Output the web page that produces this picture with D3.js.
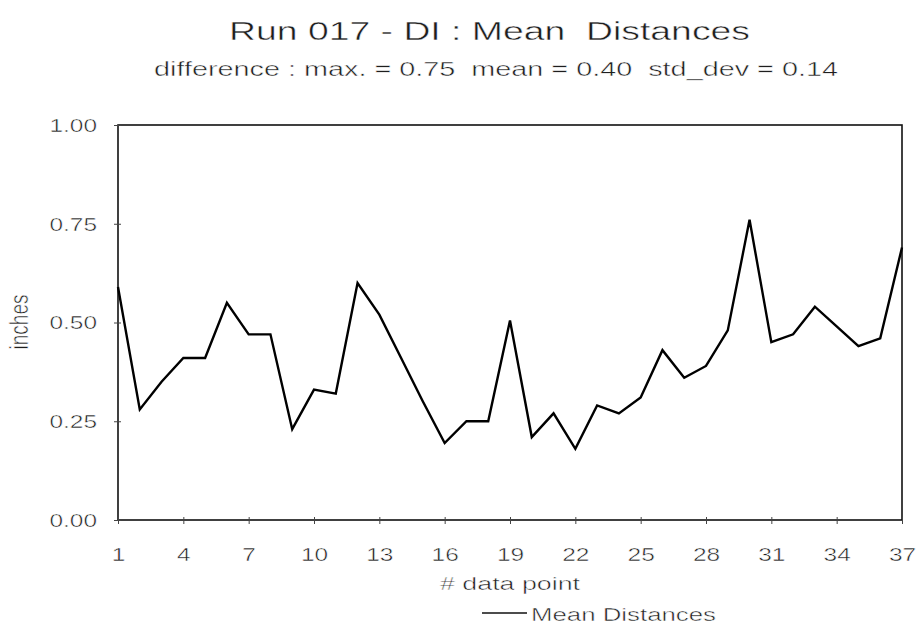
<!DOCTYPE html>
<html>
<head>
<meta charset="utf-8">
<script src="https://cdnjs.cloudflare.com/ajax/libs/d3/7.8.5/d3.min.js"></script>
<style>
  html, body { margin: 0; padding: 0; background: #fff; }
  svg { display: block; }
  text { font-family: Arial, "Liberation Sans", sans-serif; fill: #1e1e1e; white-space: pre;
         stroke: #fff; stroke-width: 0.45px; paint-order: fill stroke; }
</style>
</head>
<body>
<script>
// ---- data ----
const pointIndex = d3.range(1, 38);
const meanDistances = [0.59, 0.28, 0.35, 0.41, 0.41, 0.55, 0.47, 0.47, 0.23, 0.33,
  0.32, 0.60, 0.52, 0.41, 0.30, 0.195, 0.25, 0.25, 0.505, 0.21,
  0.27, 0.18, 0.29, 0.27, 0.31, 0.43, 0.36, 0.39, 0.48, 0.76,
  0.45, 0.47, 0.54, 0.49, 0.44, 0.46, 0.69];
const xTickValues = [1, 4, 7, 10, 13, 16, 19, 22, 25, 28, 31, 34, 37];
const yTickValues = [0, 0.25, 0.5, 0.75, 1.0];
const titleText = "Run 017 - DI : Mean  Distances";
const subtitleText = "difference : max. = 0.75  mean = 0.40  std_dev = 0.14";
const xLabel = "# data point";
const yLabel = "inches";
const seriesName = "Mean Distances";

// ---- layout ----
const W = 921, H = 632;
const plot = { left: 118, right: 902, top: 125, bottom: 520 };
const SX = 1.36; // horizontal stretch of the scanned text

const svg = d3.select("body").append("svg").attr("width", W).attr("height", H);
svg.append("rect").attr("width", W).attr("height", H).attr("fill", "#fff");

const x = d3.scaleLinear().domain([1, 37]).range([plot.left, plot.right]);
const y = d3.scaleLinear().domain([0, 1]).range([plot.bottom, plot.top]);

// frame
svg.append("rect")
  .attr("x", plot.left).attr("y", plot.top)
  .attr("width", plot.right - plot.left).attr("height", plot.bottom - plot.top)
  .attr("fill", "none").attr("stroke", "#111").attr("stroke-width", 1.6);

// x axis
const xAxis = svg.append("g").attr("transform", `translate(0,${plot.bottom})`)
  .call(d3.axisBottom(x).tickValues(xTickValues).tickSize(4).tickFormat(d3.format("d")));
xAxis.select(".domain").remove();
xAxis.selectAll(".tick line").attr("y1", -3).attr("y2", 4).attr("stroke", "#444").attr("stroke-width", 1);
xAxis.selectAll(".tick text")
  .attr("y", 41).attr("dy", 0)
  .attr("transform", `scale(${SX},1)`)
  .style("font-size", "18px").attr("fill", "#1e1e1e");

// y axis
const yAxis = svg.append("g").attr("transform", `translate(${plot.left},0)`)
  .call(d3.axisLeft(y).tickValues(yTickValues).tickSize(4).tickFormat(d3.format(".2f")));
yAxis.select(".domain").remove();
yAxis.selectAll(".tick line").attr("x1", -4).attr("x2", 3).attr("stroke", "#444").attr("stroke-width", 1);
yAxis.selectAll(".tick text")
  .attr("x", -21 / SX).attr("dy", "0.36em")
  .attr("transform", `scale(${SX},1)`)
  .style("font-size", "18px").attr("fill", "#1e1e1e");

// line
const line = d3.line().x((d, i) => x(pointIndex[i])).y(d => y(d));
svg.append("path").datum(meanDistances)
  .attr("d", line).attr("fill", "none")
  .attr("stroke", "#000").attr("stroke-width", 2.4)
  .attr("stroke-linejoin", "miter");

// titles
svg.append("text").attr("x", 229).attr("y", 40)
  .attr("textLength", 521).attr("lengthAdjust", "spacingAndGlyphs")
  .style("font-size", "26px").text(titleText);
svg.append("text").attr("x", 154).attr("y", 76)
  .attr("textLength", 684).attr("lengthAdjust", "spacingAndGlyphs")
  .style("font-size", "21px").text(subtitleText);

// axis titles
svg.append("text").attr("x", 440).attr("y", 590)
  .attr("textLength", 140).attr("lengthAdjust", "spacingAndGlyphs")
  .style("font-size", "18px").text(xLabel);
svg.append("text")
  .attr("transform", `translate(19,322) scale(${SX},1) rotate(-90)`)
  .attr("text-anchor", "middle").attr("dy", "0.36em")
  .style("font-size", "19px").text(yLabel);

// legend
svg.append("line").attr("x1", 482).attr("x2", 527).attr("y1", 613).attr("y2", 613)
  .attr("stroke", "#111").attr("stroke-width", 1.5);
svg.append("text").attr("x", 531).attr("y", 621)
  .attr("textLength", 185).attr("lengthAdjust", "spacingAndGlyphs")
  .style("font-size", "18px").text(seriesName);
</script>
</body>
</html>
